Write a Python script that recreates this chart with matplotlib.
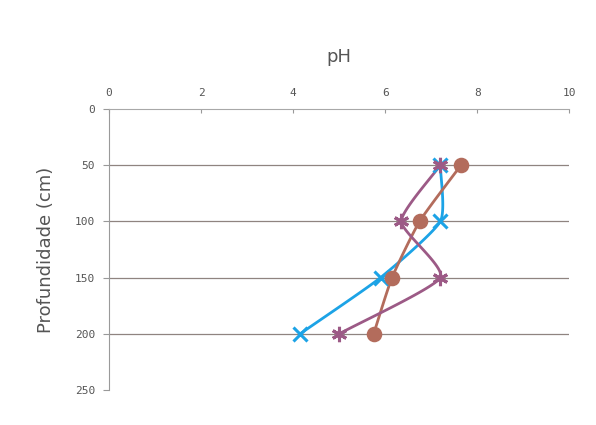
import numpy as np
import matplotlib
matplotlib.use("Agg")
import matplotlib.pyplot as plt

# profundidade das amostras (cm) e pH de cada perfil
profundidade = [50, 100, 150, 200]
ph_azul = [7.2, 7.2, 5.9, 4.15]
ph_marrom = [7.65, 6.75, 6.15, 5.75]
ph_roxo = [7.2, 6.35, 7.2, 5.0]

x_ticks = [0, 2, 4, 6, 8, 10]
y_ticks = [0, 50, 100, 150, 200, 250]


def suave(xs, ys, n=30, s=0.55):
    # curva Hermite com tangentes reduzidas (linha levemente suavizada)
    p = np.column_stack([xs, ys]).astype(float)
    ext = np.vstack([2 * p[0] - p[1], p, 2 * p[-1] - p[-2]])
    m = s * (ext[2:] - ext[:-2]) / 2
    t = np.linspace(0, 1, n)[:, None]
    h00 = 2 * t**3 - 3 * t**2 + 1
    h10 = t**3 - 2 * t**2 + t
    h01 = -2 * t**3 + 3 * t**2
    h11 = t**3 - t**2
    out = []
    for i in range(len(p) - 1):
        out.append(h00 * p[i] + h10 * m[i] + h01 * p[i + 1] + h11 * m[i + 1])
    c = np.vstack(out)
    return c[:, 0], c[:, 1]


fig = plt.figure(figsize=(5.96, 4.25), dpi=100)
ax = fig.add_axes([0.183, 0.082, 0.772, 0.662])

for y in [50, 100, 150, 200]:
    ax.axhline(y, color="#8f8480", lw=0.9, zorder=1)

series = [
    (ph_azul, "#1ca3e6", "x", 10, 2.0),
    (ph_marrom, "#b36c5c", "o", 9, 2.0),
    (ph_roxo, "#9c5a86", (6, 2, 0), 11, 2.0),
]
for vals, cor, mk, ms, lw in series:
    sx, sy = suave(vals, profundidade)
    ax.plot(sx, sy, color=cor, lw=lw, zorder=2)
    ax.plot(vals, profundidade, ls="none", marker=mk, ms=ms, color=cor,
            mec=cor, mew=2.2, zorder=3)

ax.set_xlim(0, 10)
ax.set_ylim(250, 0)
ax.set_xticks(x_ticks)
ax.set_yticks(y_ticks)
ax.xaxis.tick_top()
ax.tick_params(axis="x", direction="in", length=3, color="#999999", pad=8,
               labelsize=8, labelcolor="#555555")
ax.tick_params(axis="y", direction="out", length=4, color="#999999", pad=6,
               labelsize=8, labelcolor="#555555")
for lab in ax.get_xticklabels() + ax.get_yticklabels():
    lab.set_family("DejaVu Sans Mono")

ax.spines["right"].set_visible(False)
ax.spines["bottom"].set_visible(False)
ax.spines["top"].set_color("#a8a8a8")
ax.spines["left"].set_color("#9a9a9a")

ax.set_title("pH", fontsize=13, color="#555555", pad=34)
ax.set_ylabel("Profundidade (cm)", fontsize=13, color="#555555", labelpad=14)

fig.savefig("out.png", dpi=100)
